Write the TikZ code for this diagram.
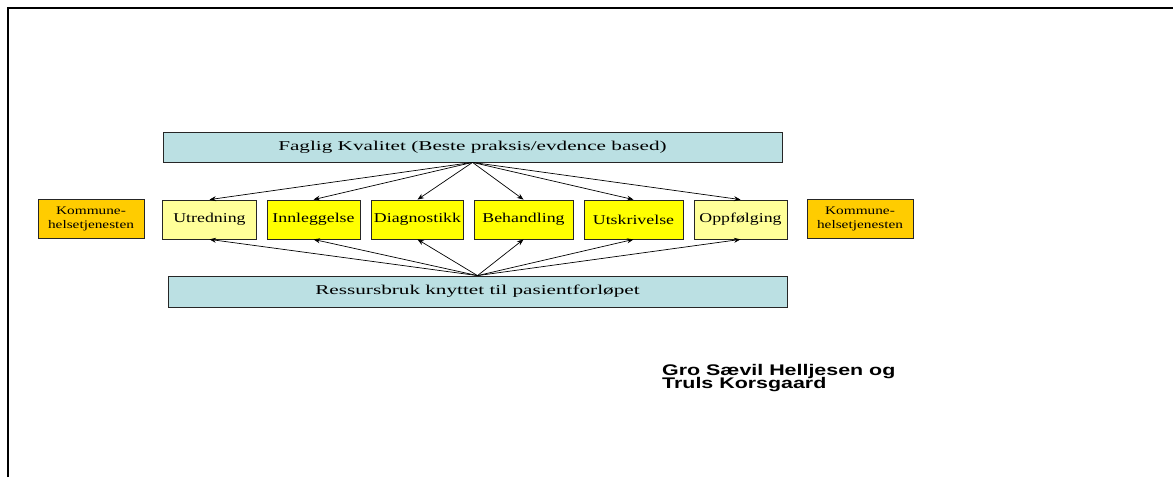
\documentclass[tikz,border=0pt]{standalone}
\usepackage{fontspec}
\usepackage{xcolor}
\usepackage{tikz}
\usetikzlibrary{arrows.meta,positioning,calc}
\setmainfont{Liberation Serif}
\newfontfamily\boxfont[FakeStretch=1.32]{Liberation Serif}
\newfontfamily\barfont[FakeStretch=1.57]{Liberation Serif}
\newfontfamily\authfont[FakeStretch=1.39]{Liberation Sans}
\newcommand\authsetup{\authfont\bfseries\fontsize{15.4}{13.5}\selectfont
  \lineskiplimit=-8pt\relax}
\definecolor{kvalblue}{RGB}{187,224,227}
\definecolor{stageyel}{RGB}{255,255,0}
\definecolor{lightyel}{RGB}{255,255,153}
\definecolor{kommorange}{RGB}{255,204,0}

\begin{document}
\begin{tikzpicture}[x=1pt, y=-1pt,
    bar/.style={draw=black!85, line width=0.8pt, fill=kvalblue,
      minimum width=619pt, inner sep=0pt,
      font=\barfont\fontsize{13.5}{15}\selectfont},
    stage/.style={draw=black!85, line width=0.8pt, minimum height=39pt,
      inner sep=0pt, font=\boxfont\fontsize{13.5}{15}\selectfont},
    komm/.style={draw=black!85, line width=0.8pt, fill=kommorange,
      minimum width=106pt, minimum height=39pt, inner sep=0pt, align=center,
      font=\boxfont\fontsize{11.6}{14}\selectfont},
    arr/.style={-{Stealth[length=6.5pt,width=5pt]}, line width=0.7pt}]
  \useasboundingbox (0,0) rectangle (1173,477);
  % Frame
  \draw[line width=2pt] (8,477) -- (8,8) -- (1173,8);
  % Bars
  \node[bar, minimum height=30pt] (kval) at (472.5,147)
    {Faglig Kvalitet (Beste praksis/evdence based)};
  \node[bar, minimum height=31pt] (ress) at (477.5,291.5)
    {Ressursbruk knyttet til pasientforløpet};
  % Stages
  \foreach \nm/\xx/\ww/\col/\txt in {utr/209.5/94/lightyel/Utredning,
      inn/313.5/93/stageyel/Innleggelse, dia/417.5/92/stageyel/Diagnostikk,
      beh/523.5/99/stageyel/Behandling, uts/633.5/99/stageyel/Utskrivelse,
      opp/740.5/93/lightyel/Oppfølging}{
    \node[stage, fill=\col, minimum width=\ww pt] (\nm) at (\xx,219.5) {\txt};
  }
  \node[komm] (kommL) at (91,218.5) {Kommune-\\helsetjenesten};
  \node[komm] (kommR) at (860,218.5) {Kommune-\\helsetjenesten};
  % Arrows
  \foreach \nm in {utr,inn,dia,beh,uts,opp}{
    \draw[arr] (kval.south) -- (\nm.north);
    \draw[arr] (ress.north) -- (\nm.south);
  }
  % Authors
  \node[anchor=base west, align=left, inner sep=0pt, font=\authsetup]
    (auth) at (662,388.5) {Gro Sævil Helljesen og\\Truls Korsgaard};
\end{tikzpicture}
\end{document}
